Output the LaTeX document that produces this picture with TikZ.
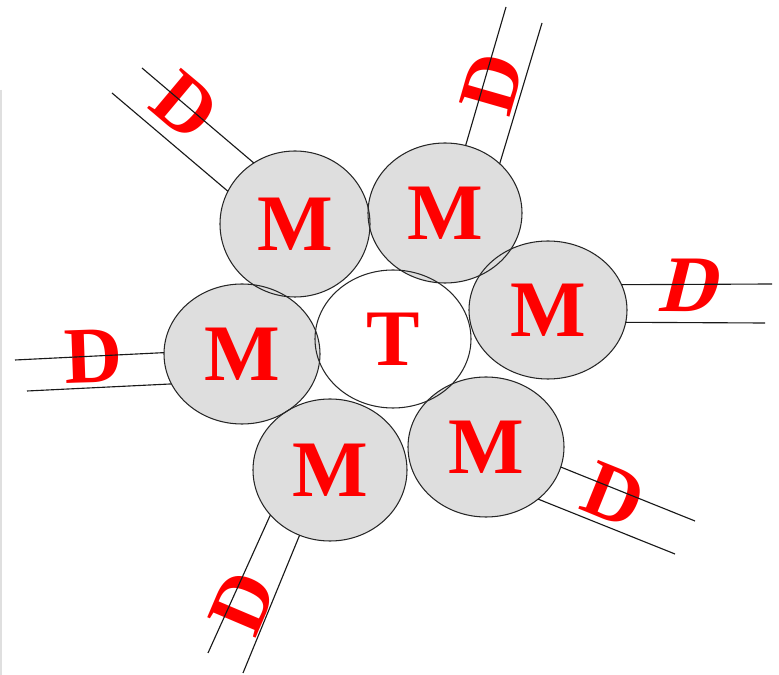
\documentclass[tikz,border=0pt]{standalone}
\usepackage{fontspec}
\setmainfont{Liberation Serif}
\usetikzlibrary{shapes.geometric}

\tikzset{
  pad/.style 2 args={ellipse, inner sep=0pt, outer sep=0pt,
    minimum width=#1*0.025cm, minimum height=#2*0.025cm},
  rim/.style={draw=black!85, line width=0.75pt},
  big/.style={font=\bfseries\fontsize{57}{57}\selectfont, text=red},
  wire/.style={black!90, line width=0.8pt},
}

\begin{document}
\begin{tikzpicture}[x=0.025cm, y=-0.025cm]
\useasboundingbox (0,0) rectangle (779,675);
\draw[gray!25, line width=1pt] (1,90) -- (1,675);

% fills first, then rims on top so all outlines show
\foreach \cx/\cy/\w/\h/\c in {393/339/156/138/white, 295/224/150/146/gray!26,
    445/213/154/140/gray!26, 548/310/158/138/gray!26, 242/354/156/140/gray!26,
    330/470/154/142/gray!26, 486/447/156/140/gray!26}
  \node[pad={\w}{\h}, fill=\c] at (\cx,\cy) {};
\foreach \n/\cx/\cy/\w/\h/\t in {t/393/339/156/138/T, m1/295/224/150/146/M,
    m2/445/213/154/140/M, m3/548/310/158/138/M, m4/242/354/156/140/M,
    m5/330/470/154/142/M, m6/486/447/156/140/M}
  \node[pad={\w}{\h}, rim, big] (\n) at (\cx,\cy) {\t};

% D labels
\node[big, rotate=-40] (d1) at (185,106) {D};
\node[big, rotate=74] (d2) at (492,83) {D};
\node[big, xslant=0.25] (d3) at (693,285) {D};
\node[big, rotate=2] (d4) at (94,356) {D};
\node[big, rotate=67] (d5) at (243,603) {D};
\node[big, rotate=-22] (d6) at (614,495) {D};

% wire ends
\coordinate (w1a) at (142,68);  \coordinate (w1b) at (112,93);
\coordinate (w2a) at (506,7);   \coordinate (w2b) at (542,23);
\coordinate (w3a) at (772,284); \coordinate (w3b) at (765,323);
\coordinate (w4a) at (15,360);  \coordinate (w4b) at (27,391);
\coordinate (w5a) at (208,653); \coordinate (w5b) at (243,673);
\coordinate (w6a) at (695,521); \coordinate (w6b) at (675,554);

\draw[wire] (m1.124) -- (w1a) (m1.154) -- (w1b);
\draw[wire] (m2.73) -- (w2a) (m2.42) -- (w2b);
\draw[wire] (m3.19) -- (w3a) (m3.-9) -- (w3b);
\draw[wire] (m4.179) -- (w4a) (m4.-157) -- (w4b);
\draw[wire] (m5.217) -- (w5a) (m5.245) -- (w5b);
\draw[wire] (m6.-15) -- (w6a) (m6.-45) -- (w6b);
\end{tikzpicture}
\end{document}
